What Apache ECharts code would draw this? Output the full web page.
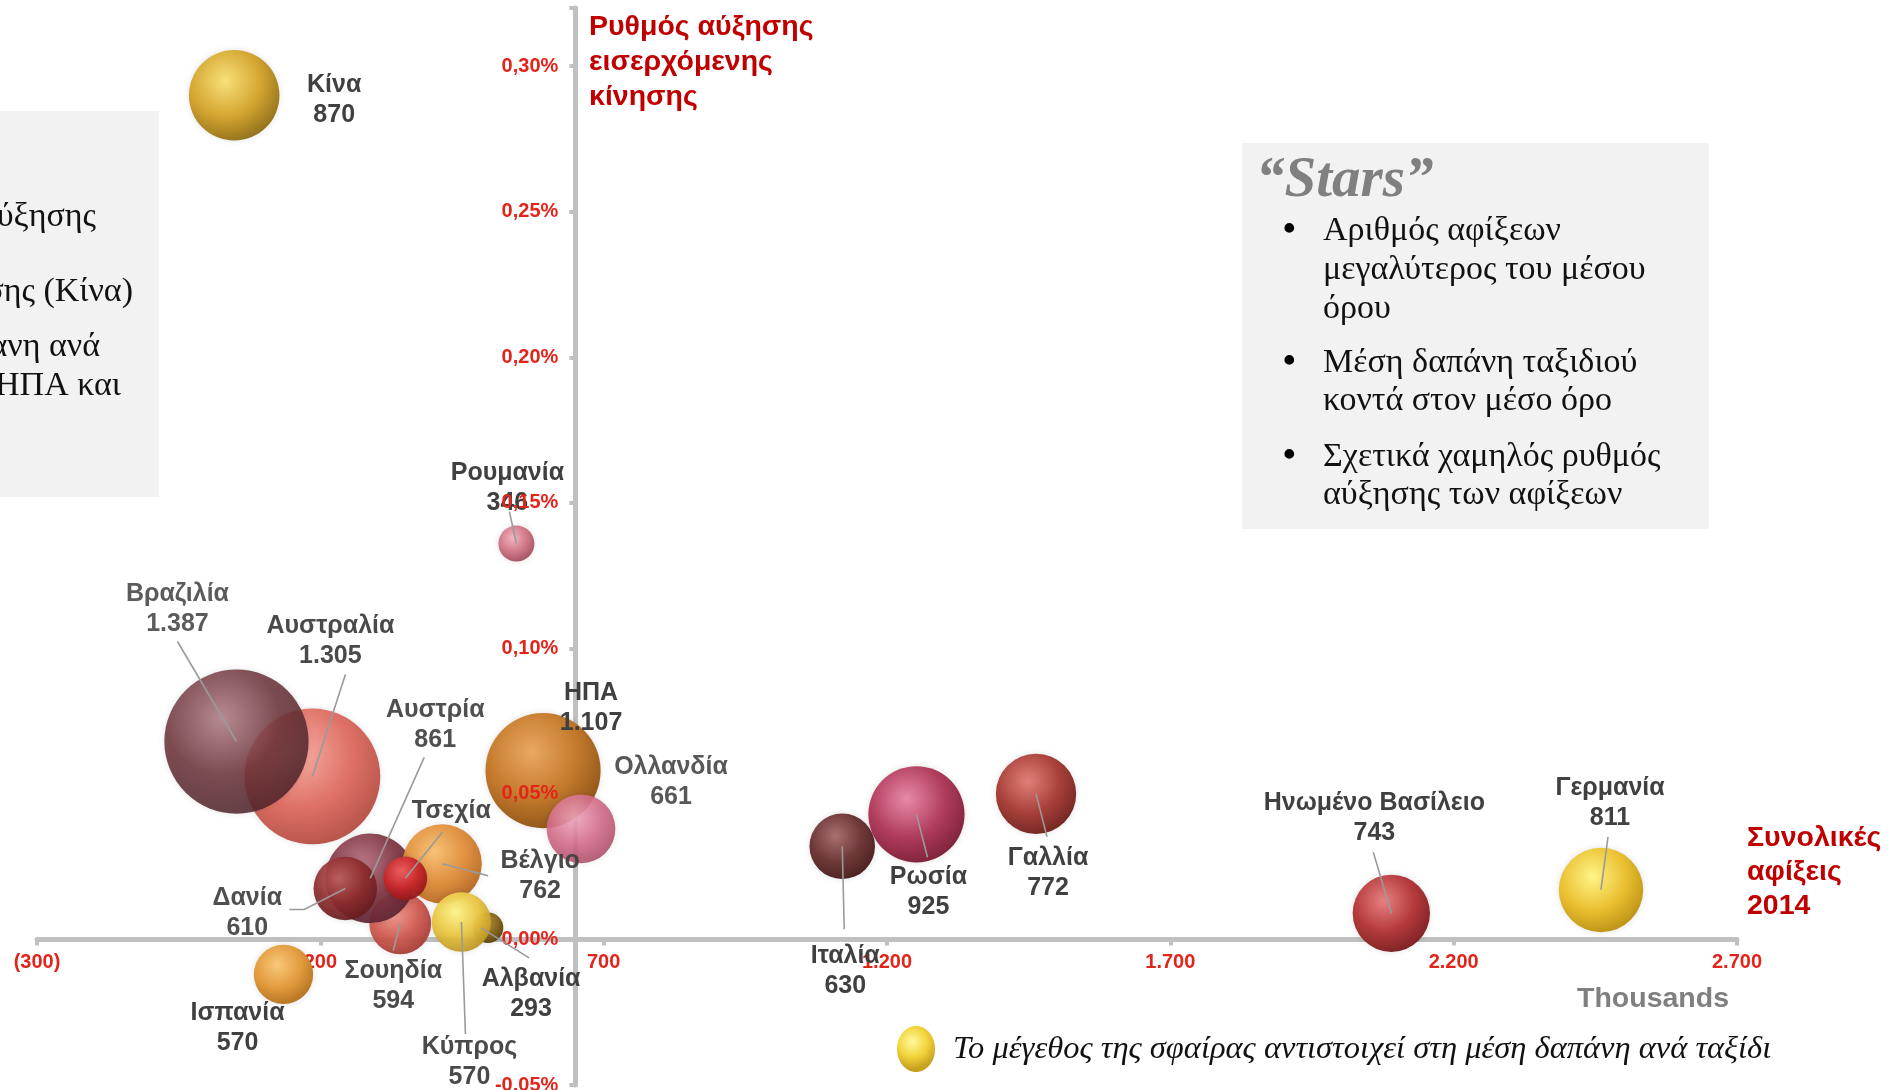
<!DOCTYPE html>
<html>
<head>
<meta charset="utf-8">
<script src="https://cdn.jsdelivr.net/npm/echarts@6/dist/echarts.min.js"></script>
<style>
  html, body { margin: 0; padding: 0; background: #ffffff; }
  #chart { width: 1890px; height: 1090px; }
</style>
</head>
<body>
<div id="chart"></div>
<script>
// Countries, drawn in this order (later bubbles sit on top of earlier ones)
const countries = ['Κίνα', 'Ρουμανία', 'Αυστραλία', 'Βραζιλία', 'ΗΠΑ', 'Ολλανδία', 'Ισπανία',
  'Σουηδία', 'Αυστρία', 'Δανία', 'Βέλγιο', 'Τσεχία', 'Αλβανία', 'Κύπρος',
  'Ιταλία', 'Ρωσία', 'Γαλλία', 'Ηνωμένο Βασίλειο', 'Γερμανία'];
// Total arrivals 2014 (thousands)
const arrivals = [48, 546, 186, 52, 593, 660, 135,
  341, 288, 244, 415, 350, 496, 449,
  1121, 1252, 1463, 2090, 2460];
// Growth rate of incoming traffic (%)
const growth = [0.290, 0.136, 0.056, 0.068, 0.058, 0.038, -0.012,
  0.0055, 0.021, 0.0175, 0.026, 0.021, 0.004, 0.006,
  0.032, 0.043, 0.050, 0.009, 0.017];
// Average spend per trip (bubble size)
const spend = [870, 346, 1305, 1387, 1107, 661, 570,
  594, 861, 610, 762, 420, 293, 570,
  630, 925, 772, 743, 811];
// Countries whose spend figure is not printed in the label
const spendUnprinted = ['Τσεχία'];

// Axis settings
const xMin = -300, xMax = 2700, xStep = 500;
const yMin = -0.05, yMax = 0.32, yStep = 0.05;
const yAxisCrossAt = 650;   // arrivals value where the vertical axis is placed
const xAxisCrossAt = 0;     // growth value where the horizontal axis is placed

// Label placement (px offsets from the bubble centre) and leader-line points
const labelLayout = {
  'Κίνα':             { label: [100, 5] },
  'Ρουμανία':         { label: [-9, -55],  line: [[-7, -32]] },
  'Αυστραλία':        { label: [18, -135], line: [[33, -102]] },
  'Βραζιλία':         { label: [-59, -132], line: [[-59, -100]] },
  'ΗΠΑ':              { label: [48, -63] },
  'Ολλανδία':         { label: [90, -47] },
  'Ισπανία':          { label: [-46, 54] },
  'Σουηδία':          { label: [-7, 63],   line: [[-7, 27]] },
  'Αυστρία':          { label: [65, -153], line: [[54, -121]] },
  'Δανία':            { label: [-98, 25],  line: [[-56, 21], [-41, 21]] },
  'Βέλγιο':           { label: [98, 12],   line: [[46, 12]] },
  'Τσεχία':           { label: [46, -67],  line: [[37, -46]] },
  'Αλβανία':          { label: [43, 66],   line: [[41, 30]], end: [-7, 0] },
  'Κύπρος':           { label: [8, 140],   line: [[4, 112]] },
  'Ιταλία':           { label: [3, 125],   line: [[2, 83]] },
  'Ρωσία':            { label: [12, 78],   line: [[11, 43]] },
  'Γαλλία':           { label: [12, 79],   line: [[11, 43]] },
  'Ηνωμένο Βασίλειο': { label: [-17, -95], line: [[-18, -61]] },
  'Γερμανία':         { label: [9, -87],   line: [[7, -53]] }
};

// Sphere shading per country: highlight, body, rim, opacity
const sphere = {
  'Κίνα':             ['#f8e07a', '#d4a530', '#8c6d1a', 1],
  'Ρουμανία':         ['#f2b4c0', '#d07888', '#a05060', 1],
  'Αυστραλία':        ['#f8aaa0', '#de6a5e', '#b04a40', 0.95],
  'Βραζιλία':         ['#b07c84', '#6a3238', '#4a2228', 0.86],
  'ΗΠΑ':              ['#eaa862', '#c47a2c', '#8a5218', 1],
  'Ολλανδία':         ['#f2a8be', '#d46a88', '#a84a64', 0.88],
  'Ισπανία':          ['#f8c87a', '#e29a3c', '#b07020', 1],
  'Σουηδία':          ['#f09a90', '#d05a50', '#a03a34', 0.95],
  'Αυστρία':          ['#b87080', '#7e3440', '#5a2030', 0.92],
  'Δανία':            ['#c06060', '#8c2a2c', '#601a1c', 0.92],
  'Βέλγιο':           ['#f8c070', '#e08c38', '#b06420', 0.95],
  'Τσεχία':           ['#f06060', '#c8262a', '#8a1618', 0.95],
  'Αλβανία':          ['#c8a040', '#8a6a24', '#5a4410', 1],
  'Κύπρος':           ['#fff48a', '#e8c440', '#b89020', 0.95],
  'Ιταλία':           ['#a87070', '#6e3838', '#4a2020', 1],
  'Ρωσία':            ['#e88aa6', '#b03c5c', '#7a2038', 1],
  'Γαλλία':           ['#e0807a', '#a8403a', '#6e2420', 1],
  'Ηνωμένο Βασίλειο': ['#e88080', '#b43a3c', '#7a2022', 1],
  'Γερμανία':         ['#fff488', '#eac030', '#b88e14', 1]
};

const bubbleScale = 0.104;   // diameter (px) per unit of spend

function thousands(v) {
  return String(Math.round(Math.abs(v))).replace(/\B(?=(\d{3})+(?!\d))/g, '.');
}
function xLabel(v) {
  return v < 0 ? '(' + thousands(v) + ')' : thousands(v);
}
function yLabel(v) {
  return v.toFixed(2).replace('.', ',') + '%';
}
function sphereColor(c) {
  return {
    type: 'radial', x: 0.4, y: 0.34, r: 0.72,
    colorStops: [
      { offset: 0, color: c[0] },
      { offset: 0.55, color: c[1] },
      { offset: 1, color: c[2] }
    ]
  };
}

const seriesData = countries.map(function (name, i) {
  const s = sphere[name];
  return {
    name: name,
    value: [arrivals[i], growth[i], spend[i]],
    itemStyle: { color: sphereColor(s), opacity: s[3] },
    label: { offset: labelLayout[name].label }
  };
});

const chart = echarts.init(document.getElementById('chart'), null, { renderer: 'canvas' });

const axisGray = '#c0c0c0';
const tickRed = '#e3241b';
const tickFont = { color: tickRed, fontFamily: 'Liberation Sans', fontWeight: 'bold', fontSize: 20 };

function yAxisDef(offset, forLabels) {
  return {
    type: 'value', min: yMin, max: yMax, interval: yStep,
    position: 'left', offset: offset,
    z: forLabels ? 10 : 0,
    axisLine: { show: !forLabels, onZero: false, lineStyle: { color: axisGray, width: 5 } },
    axisTick: { show: !forLabels, length: 6, lineStyle: { color: axisGray, width: 4 } },
    axisLabel: Object.assign({ show: forLabels, showMaxLabel: false, formatter: yLabel, margin: 17 }, tickFont),
    splitLine: { show: false }
  };
}

function buildOption(xOffset, yOffset) {
  return {
    animation: false,
    backgroundColor: '#ffffff',
    grid: { left: 37, right: 153, top: 8, bottom: 5, containLabel: false, outerBoundsMode: 'none' },
    xAxis: {
      type: 'value', min: xMin, max: xMax, interval: xStep,
      position: 'bottom', offset: xOffset,
      axisLine: { onZero: false, lineStyle: { color: axisGray, width: 5 } },
      axisTick: { length: 6, lineStyle: { color: axisGray, width: 4 } },
      axisLabel: Object.assign({ formatter: xLabel, margin: 13, showMinLabel: true, showMaxLabel: true }, tickFont),
      splitLine: { show: false }
    },
    yAxis: [yAxisDef(yOffset, false), yAxisDef(yOffset, true)],
    series: [{
      type: 'scatter',
      clip: false,
      z: 3,
      data: seriesData,
      symbol: 'circle',
      symbolSize: function (v) { return v[2] * bubbleScale; },
      itemStyle: { shadowColor: 'rgba(0,0,0,0.12)', shadowBlur: 6 },
      label: {
        show: true, position: 'inside',
        align: 'center', verticalAlign: 'middle',
        fontFamily: 'Liberation Sans', fontWeight: 'bold', fontSize: 25,
        lineHeight: 30, color: '#404040',
        formatter: function (p) {
          return spendUnprinted.indexOf(p.name) >= 0
            ? p.name
            : p.name + '\n' + thousands(p.value[2]);
        }
      },
      emphasis: { disabled: true }
    }]
  };
}

chart.setOption(buildOption(0, 0));

// Place the axes so that they cross at the chosen values
const leftPx = chart.convertToPixel({ xAxisIndex: 0 }, xMin);
const crossXPx = chart.convertToPixel({ xAxisIndex: 0 }, yAxisCrossAt);
const bottomPx = chart.convertToPixel({ yAxisIndex: 0 }, yMin);
const crossYPx = chart.convertToPixel({ yAxisIndex: 0 }, xAxisCrossAt);
const option = buildOption(crossYPx - bottomPx, leftPx - crossXPx);

// Leader lines from the labels into the bubbles
const leaders = [];
countries.forEach(function (name, i) {
  const lay = labelLayout[name];
  if (!lay.line) return;
  const c = chart.convertToPixel({ xAxisIndex: 0, yAxisIndex: 0 }, [arrivals[i], growth[i]]);
  const e = lay.end || [0, 0];
  const pts = lay.line.map(function (p) { return [c[0] + p[0], c[1] + p[1]]; });
  pts.push([c[0] + e[0], c[1] + e[1]]);
  leaders.push({
    type: 'polyline', z: 50, silent: true,
    shape: { points: pts },
    style: { stroke: '#9a9a9a', lineWidth: 1.6, fill: null }
  });
});

const serif = 'Liberation Serif';
const bodyFont = '34px "' + serif + '"';
const starsLines = [
  ['•', 'Αριθμός αφίξεων', 231],
  ['', 'μεγαλύτερος του μέσου', 270],
  ['', 'όρου', 309],
  ['•', 'Μέση δαπάνη ταξιδιού', 363],
  ['', 'κοντά στον μέσο όρο', 401],
  ['•', 'Σχετικά χαμηλός ρυθμός', 457],
  ['', 'αύξησης των αφίξεων', 495]
];
const starsTexts = [];
starsLines.forEach(function (l) {
  if (l[0]) starsTexts.push({ type: 'text', x: 1283, y: l[2], style: { text: l[0], font: 'bold 36px "' + serif + '"', fill: '#000', verticalAlign: 'middle' } });
  starsTexts.push({ type: 'text', x: 1323, y: l[2], style: { text: l[1], font: bodyFont, fill: '#111', verticalAlign: 'middle' } });
});

const sideNotes = [
  ['ύξησης', 96, 217],
  ['σης (Κίνα)', 133, 292],
  ['ανη ανά', 100, 347],
  ['ΗΠΑ και', 121, 386]
];

option.graphic = [
  // Partially visible note box at the left edge
  { type: 'rect', z: -10, shape: { x: 0, y: 111, width: 159, height: 386 }, style: { fill: '#f2f2f2' } },
  ...sideNotes.map(function (n) {
    return { type: 'text', z: -5, x: n[1], y: n[2], style: { text: n[0], font: bodyFont, fill: '#111', align: 'right', verticalAlign: 'middle' } };
  }),
  // "Stars" box
  { type: 'rect', z: -10, shape: { x: 1242, y: 143, width: 467, height: 386 }, style: { fill: '#f2f2f2' } },
  { type: 'text', x: 1256, y: 181, style: { text: '“Stars”', font: 'italic bold 57px "' + serif + '"', fill: '#808080', verticalAlign: 'middle' } },
  ...starsTexts,
  // Axis titles
  { type: 'text', x: 589, y: 10, style: { text: 'Ρυθμός αύξησης\nεισερχόμενης\nκίνησης', font: 'bold 28.5px "Liberation Sans"', lineHeight: 35, fill: '#c00000' } },
  { type: 'text', x: 1747, y: 821, style: { text: 'Συνολικές\nαφίξεις\n2014', font: 'bold 28.5px "Liberation Sans"', lineHeight: 34, fill: '#c00000' } },
  { type: 'text', x: 1577, y: 999, style: { text: 'Thousands', font: 'bold 28.5px "Liberation Sans"', fill: '#7f7f7f', verticalAlign: 'middle' } },
  // Bubble-size note
  { type: 'ellipse', shape: { cx: 916, cy: 1049, rx: 19, ry: 23 }, style: { fill: sphereColor(['#fff9a0', '#f2d43a', '#c8a020']) } },
  { type: 'text', x: 953, y: 1049, style: { text: 'Το μέγεθος της σφαίρας αντιστοιχεί στη μέση δαπάνη ανά ταξίδι', font: 'italic 32.5px "' + serif + '"', fill: '#111', verticalAlign: 'middle' } },
  ...leaders
];

chart.setOption(option, true);
</script>
</body>
</html>
